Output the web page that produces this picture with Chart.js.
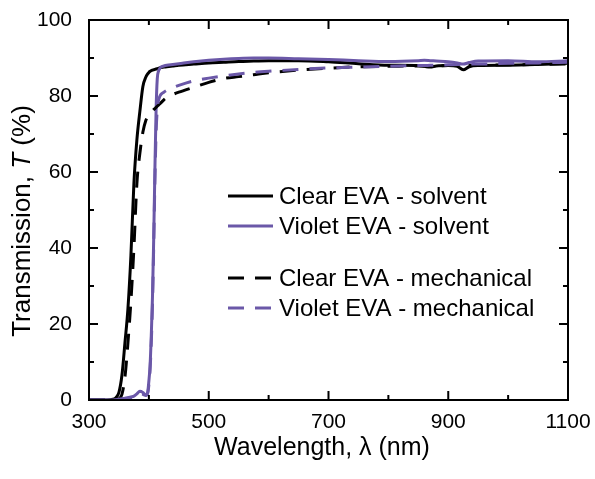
<!DOCTYPE html>
<html>
<head>
<meta charset="utf-8">
<script src="https://cdn.jsdelivr.net/npm/chart.js@4.4.1/dist/chart.umd.min.js"></script>
<style>
    html, body { margin: 0; padding: 0; background: #fff; }
    #wrap { width: 595px; height: 479px; }
</style>
</head>
<body>
<div id="wrap"><canvas id="transChart" width="595" height="479"></canvas></div>
<script>
// wavelength grid (nm), finer around the absorption edge
const wavelength = [300, 330, 340, 345, 350, 355, 360, 365, 370, 375, 380, 385, 390, 395, 398,
    400, 402, 404, 406, 408, 410, 412, 414, 416, 418, 420, 425, 430, 440, 450,
    475, 500, 525, 550, 575, 600, 650, 700, 750, 800, 850, 860, 870, 880, 900,
    915, 925, 935, 950, 1000, 1050, 1100];

const clearSolvent = [0, 0, 0.2, 0.6, 2, 6.5, 15, 24, 38, 57, 68.5, 76, 82.5, 85, 85.8,
    86.2, 86.5, 86.7, 86.8, 86.9, 87, 87.1, 87.2, 87.3, 87.4, 87.5, 87.6, 87.7, 87.9, 88.1,
    88.4, 88.7, 88.9, 89.1, 89.2, 89.3, 89.3, 89.0, 88.5, 88.1, 88.0, 87.8, 87.6, 87.9, 88.0,
    87.8, 86.9, 87.7, 88.0, 88.1, 88.3, 88.6];

const violetSolvent = [0, 0, 0, 0.1, 0.2, 0.3, 0.5, 0.6, 0.8, 1.0, 1.6, 2.3, 2.0, 1.3, 2.0,
    5, 9, 17, 27, 42, 60, 76, 84.5, 86.5, 87.2, 87.6, 87.9, 88.1, 88.3, 88.5,
    89.0, 89.4, 89.7, 89.9, 90.0, 90.0, 89.8, 89.6, 89.3, 89.1, 89.3, 89.4, 89.3, 89.2, 89.0,
    88.7, 88.4, 88.8, 89.2, 89.3, 89.0, 89.3];

const clearMechanical = [0, 0, 0, 0, 0.3, 1.5, 6, 15, 26, 40, 57, 65, 70.5, 73.6, 74.5,
    75, 75.4, 75.8, 76.1, 76.4, 76.7, 77, 77.3, 77.6, 77.9, 78.2, 79, 79.6, 80.4, 81,
    82.3, 83.6, 84.6, 85.1, 85.6, 86.1, 86.8, 87.3, 87.7, 87.8, 87.9, 87.9, 87.9, 87.9, 88.0,
    88.0, 88.0, 88.0, 88.1, 88.2, 88.3, 88.4];

const violetMechanical = [0, 0, 0, 0.1, 0.2, 0.3, 0.4, 0.5, 0.6, 0.8, 1.2, 1.6, 1.5, 1.2, 1.8,
    4, 8, 15, 25, 40, 57, 70, 76.5, 78.8, 79.8, 80.4, 81, 81.5, 82.2, 82.8,
    84.0, 84.7, 85.3, 85.8, 86.2, 86.5, 87.0, 87.4, 87.6, 87.8, 88.0, 88.0, 88.1, 88.1, 88.2,
    88.3, 88.3, 88.4, 88.4, 88.6, 88.7, 88.9];

const xTickLabels = [300, 500, 700, 900, 1100];
const xMinorTicks = [400, 600, 800, 1000];
const yTickLabels = [0, 20, 40, 60, 80, 100];
const yMinorTicks = [10, 30, 50, 70, 90];

const BLACK = "#000000";
const VIOLET = "#6B58A8";
const FONT = "'Liberation Sans', Arial, sans-serif";

const toPoints = vals => vals.map((v, i) => ({ x: wavelength[i], y: v }));

// ===============================
// frame with inward ticks on all four sides
// ===============================
const frameTicks = {
    id: "frameTicks",
    afterDatasetsDraw(chart) {
        const { ctx, chartArea: a, scales: { x, y } } = chart;
        ctx.save();
        ctx.strokeStyle = "#000";
        ctx.lineWidth = 2;
        ctx.beginPath();
        const xt = (vals, len) => vals.forEach(v => {
            const p = x.getPixelForValue(v);
            ctx.moveTo(p, a.bottom); ctx.lineTo(p, a.bottom - len);
            ctx.moveTo(p, a.top); ctx.lineTo(p, a.top + len);
        });
        const yt = (vals, len) => vals.forEach(v => {
            const p = y.getPixelForValue(v);
            ctx.moveTo(a.left, p); ctx.lineTo(a.left + len, p);
            ctx.moveTo(a.right, p); ctx.lineTo(a.right - len, p);
        });
        xt(xTickLabels, 9); xt(xMinorTicks, 5);
        yt(yTickLabels, 9); yt(yMinorTicks, 5);
        ctx.stroke();
        ctx.strokeRect(a.left, a.top, a.right - a.left, a.bottom - a.top);
        ctx.restore();
    }
};

// ===============================
// axis titles and the grouped legend
// ===============================
const titlesLegend = {
    id: "titlesLegend",
    afterDraw(chart) {
        const { ctx, chartArea: a } = chart;
        ctx.save();
        ctx.fillStyle = "#000";
        ctx.textBaseline = "middle";

        // x title
        ctx.font = `25px ${FONT}`;
        ctx.textAlign = "center";
        ctx.fillText("Wavelength, \u03bb (nm)", 322, 448);

        // y title with italic T
        const parts = [["Transmission, ", ""], ["T", "italic "], [" (%)", ""]];
        ctx.translate(23, 221);
        ctx.rotate(-Math.PI / 2);
        ctx.textAlign = "left";
        let total = 0;
        parts.forEach(([t, s]) => { ctx.font = `${s}26px ${FONT}`; total += ctx.measureText(t).width; });
        let px = -total / 2;
        parts.forEach(([t, s]) => {
            ctx.font = `${s}26px ${FONT}`;
            ctx.fillText(t, px, 0);
            px += ctx.measureText(t).width;
        });
        ctx.setTransform(1, 0, 0, 1, 0, 0);

        // legend
        const rows = [196, 226, 278, 308];
        ctx.font = `24px ${FONT}`;
        ctx.textAlign = "left";
        chart.data.datasets.forEach((ds, i) => {
            const ry = rows[i];
            ctx.strokeStyle = ds.borderColor;
            ctx.lineWidth = 3;
            ctx.setLineDash(ds.borderDash || []);
            ctx.beginPath();
            ctx.moveTo(228, ry);
            ctx.lineTo(273, ry);
            ctx.stroke();
            ctx.setLineDash([]);
            ctx.fillText(ds.label, 279, ry + 1);
        });
        ctx.restore();
    }
};

const lineSet = (label, vals, color, dash, order) => ({
    label,
    data: toPoints(vals),
    borderColor: color,
    backgroundColor: color,
    borderWidth: 3,
    borderDash: dash,
    pointRadius: 0,
    cubicInterpolationMode: "monotone",
    order
});

new Chart(document.getElementById("transChart").getContext("2d"), {
    type: "line",
    data: {
        datasets: [
            lineSet("Clear EVA - solvent", clearSolvent, BLACK, [], 4),
            lineSet("Violet EVA - solvent", violetSolvent, VIOLET, [], 3),
            lineSet("Clear EVA - mechanical", clearMechanical, BLACK, [16, 11], 2),
            lineSet("Violet EVA - mechanical", violetMechanical, VIOLET, [16, 11], 1)
        ]
    },
    options: {
        responsive: false,
        devicePixelRatio: 1,
        animation: false,
        layout: { padding: { top: 20, right: 27, left: 0, bottom: 0 } },
        plugins: {
            legend: { display: false },
            tooltip: { enabled: false }
        },
        scales: {
            x: {
                type: "linear",
                min: 300,
                max: 1100,
                grid: { display: false },
                border: { display: false },
                afterBuildTicks: s => { s.ticks = xTickLabels.map(v => ({ value: v })); },
                afterFit: s => { s.height = 79; s.paddingLeft = 0; s.paddingRight = 0; },
                ticks: {
                    color: "#000",
                    padding: 2,
                    maxRotation: 0,
                    callback: v => String(v),
                    font: { family: FONT, size: 21 }
                }
            },
            y: {
                min: 0,
                max: 100,
                grid: { display: false },
                border: { display: false },
                afterBuildTicks: s => { s.ticks = yTickLabels.map(v => ({ value: v })); },
                afterFit: s => { s.width = 89; s.paddingTop = 0; s.paddingBottom = 0; },
                ticks: {
                    color: "#000",
                    padding: 9,
                    callback: v => String(v),
                    font: { family: FONT, size: 21 }
                }
            }
        }
    },
    plugins: [frameTicks, titlesLegend]
});
</script>
</body>
</html>
